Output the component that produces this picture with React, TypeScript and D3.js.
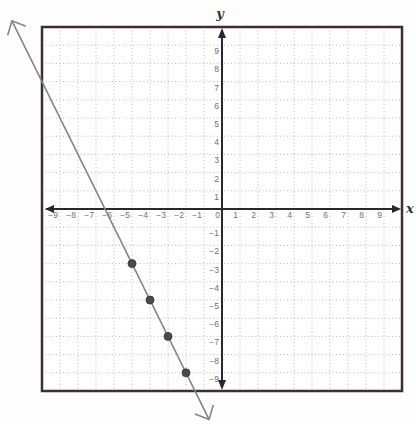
import React from "react";
import * as d3 from "d3";

const xTicks = [-9, -8, -7, -6, -5, -4, -3, -2, -1, 0, 1, 2, 3, 4, 5, 6, 7, 8, 9];
const yTicks = [-9, -8, -7, -6, -5, -4, -3, -2, -1, 1, 2, 3, 4, 5, 6, 7, 8, 9];
const gridValues = d3.range(-10, 11);
const pointX = [-5, -4, -3, -2];
const pointY = [-3, -5, -7, -9];
const lineX = [-11.67, -0.72];
const lineY = [10.34, -11.56];

const W = 416, H = 424;
const left = 42, right = 402, top = 27, bottom = 391;

export default function App() {
  const x = d3.scaleLinear().domain([-10, 10]).range([left, right]);
  const y = d3.scaleLinear().domain([-10, 10]).range([bottom, top]);
  const x0 = x(0), y0 = y(0);

  const p1 = [x(lineX[0]), y(lineY[0])];
  const p2 = [x(lineX[1]), y(lineY[1])];
  const ang = Math.atan2(p2[1] - p1[1], p2[0] - p1[0]);
  const wing = (tip: number[], dir: number) => {
    const L = 15, a = Math.PI / 4.2;
    const base = dir;
    return `M${tip[0] + L * Math.cos(base + a)},${tip[1] + L * Math.sin(base + a)}L${tip[0]},${tip[1]}L${tip[0] + L * Math.cos(base - a)},${tip[1] + L * Math.sin(base - a)}`;
  };
  const lineGen = d3.line<number>().x((_, i) => x(lineX[i])).y((_, i) => y(lineY[i]));

  const axisColor = "#2b2633";
  const labelStyle = { fontFamily: "Liberation Sans, Arial, sans-serif", fontSize: 8.5, fill: "#707070" } as const;

  return (
    <svg width={W} height={H} style={{ position: "absolute", left: 0, top: 0, background: "#fdfdfc" }}>
      <rect x={0} y={0} width={W} height={H} fill="#fdfdfc" />
      <rect x={left} y={top} width={right - left} height={bottom - top} fill="#ffffff" />
      {gridValues.map((v) => (
        <line key={"gx" + v} x1={x(v)} x2={x(v)} y1={top} y2={bottom} stroke="#babac4" strokeWidth={1} strokeDasharray="1,2.5" />
      ))}
      {gridValues.map((v) => (
        <line key={"gy" + v} x1={left} x2={right} y1={y(v)} y2={y(v)} stroke="#c0b6ba" strokeWidth={1} strokeDasharray="1,2.5" />
      ))}
      <rect x={left} y={top} width={right - left} height={bottom - top} fill="none" stroke="#3f2e2e" strokeWidth={2.5} />
      {/* axes */}
      <line x1={left + 4} x2={right - 4} y1={y0} y2={y0} stroke={axisColor} strokeWidth={2} />
      <line x1={x0} x2={x0} y1={top + 4} y2={bottom - 4} stroke={axisColor} strokeWidth={2} />
      <path d={`M${left + 3},${y0}L${left + 12},${y0 - 4}L${left + 12},${y0 + 4}Z`} fill={axisColor} />
      <path d={`M${right - 1},${y0}L${right - 10},${y0 - 4}L${right - 10},${y0 + 4}Z`} fill={axisColor} />
      <path d={`M${x0},${top + 1}L${x0 - 4},${top + 11}L${x0 + 4},${top + 11}Z`} fill={axisColor} />
      <path d={`M${x0},${bottom - 1}L${x0 - 4},${bottom - 11}L${x0 + 4},${bottom - 11}Z`} fill={axisColor} />
      {/* tick labels */}
      {xTicks.map((v) => (
        <text key={"xl" + v} x={x(v) - 2} y={y0 + 9} textAnchor="end" {...labelStyle}>
          {v < 0 ? "\u2212" + Math.abs(v) : String(v)}
        </text>
      ))}
      {yTicks.map((v) => (
        <text key={"yl" + v} x={x0 - 3} y={y(v) + 9} textAnchor="end" {...labelStyle}>
          {v < 0 ? "\u2212" + Math.abs(v) : String(v)}
        </text>
      ))}
      {/* axis titles */}
      <text x={x0 - 2} y={18} textAnchor="middle" fontFamily="DejaVu Serif, serif" fontStyle="italic" fontWeight="bold" fontSize={13} fill="#333">y</text>
      <text x={410} y={213} textAnchor="middle" fontFamily="DejaVu Serif, serif" fontStyle="italic" fontWeight="bold" fontSize={13} fill="#333">x</text>
      {/* line */}
      <path d={lineGen(lineX) || ""} stroke="#858585" strokeWidth={1.6} fill="none" />
      <path d={wing(p1, ang)} stroke="#858585" strokeWidth={1.6} fill="none" />
      <path d={wing(p2, ang + Math.PI)} stroke="#858585" strokeWidth={1.6} fill="none" />
      {pointX.map((v, i) => (
        <circle key={"pt" + i} cx={x(v)} cy={y(pointY[i])} r={4} fill="#4a4a50" stroke="#333" strokeWidth={0.8} />
      ))}
    </svg>
  );
}
